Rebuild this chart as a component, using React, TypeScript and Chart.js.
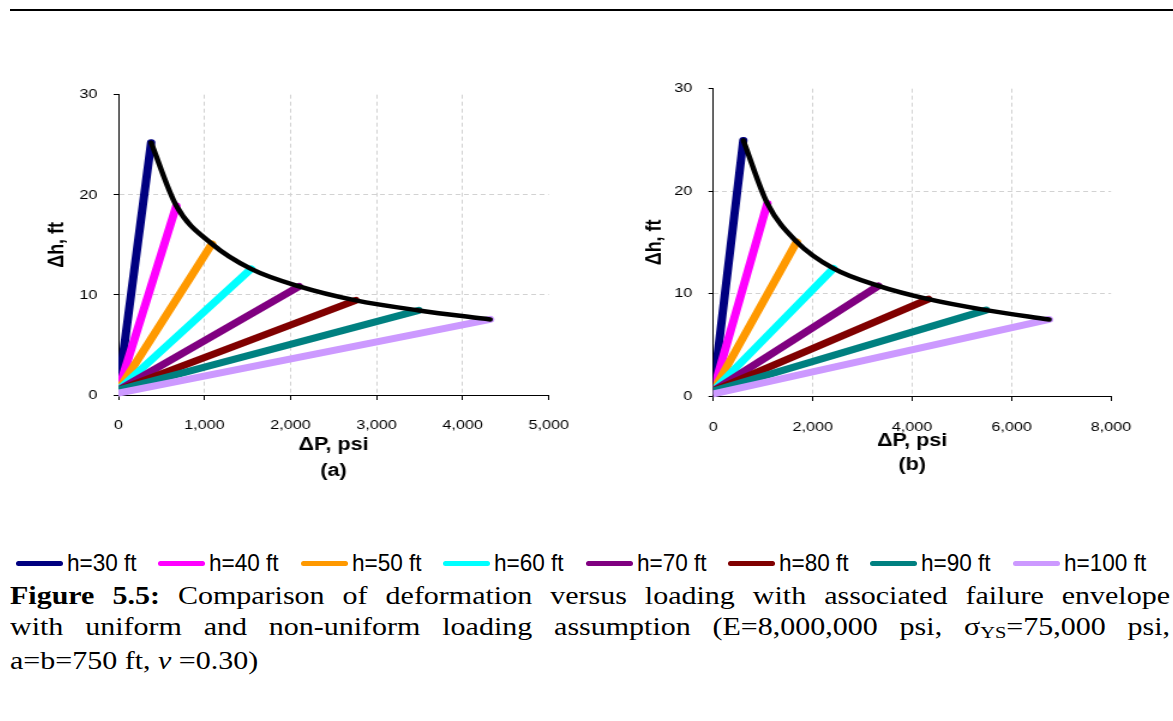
import React, { useEffect, useRef } from 'react';
import { Chart, registerables } from 'chart.js';

Chart.register(...registerables);

// ---------- data ----------
const SERIES_LABELS = ['h=30 ft', 'h=40 ft', 'h=50 ft', 'h=60 ft', 'h=70 ft', 'h=80 ft', 'h=90 ft', 'h=100 ft'];
const SERIES_COLORS = ['#000080', '#FF00FF', '#FF9900', '#00FFFF', '#800080', '#800000', '#008080', '#CC99FF'];
const START_DP = [0, 0, 0, 0, 0, 0, 0, 0];
const START_DH = [0.5, 0.5, 0.5, 0.5, 0.5, 0.5, 0.5, 0.2];
// panel (a): uniform loading
const A_END_DP = [380, 673, 1086, 1541, 2100, 2757, 3490, 4319];
const A_END_DH = [25.2, 18.9, 15.1, 12.6, 10.85, 9.45, 8.45, 7.55];
// panel (b): non-uniform loading
const B_END_DP = [604, 1087, 1678, 2415, 3320, 4326, 5487, 6754];
const B_END_DH = [24.95, 18.8, 15.05, 12.45, 10.75, 9.45, 8.38, 7.47];
const A_X_TICKS = [0, 1000, 2000, 3000, 4000, 5000];
const B_X_TICKS = [0, 2000, 4000, 6000, 8000];
const Y_TICKS = [0, 10, 20, 30];
const X_TITLE = '\u0394P, psi';
const Y_TITLE = '\u0394h, ft';

const FONT = '"Liberation Sans", Arial, sans-serif';
const SX = 1.2; // horizontal stretch of the pasted page

type Panel = {
  endX: number[];
  endY: number[];
  xTicks: number[];
  sub: string;
  left: number;
  top: number;
  cssW: number;
  h: number;
  yAxisW: number;
  padRight: number;
  xAxisH: number;
  xTickPad: number;
  xTitleLH: number;
  xTitlePadBottom: number;
  yTitlePad: number;
};

const PANEL_A: Panel = {
  endX: A_END_DP, endY: A_END_DH, xTicks: A_X_TICKS, sub: '(a)',
  left: 20, top: 73, cssW: 570, h: 417,
  yAxisW: 82, padRight: 33, xAxisH: 95,
  xTickPad: 17.5, xTitleLH: 26, xTitlePadBottom: 5.5, yTitlePad: 20,
};
const PANEL_B: Panel = {
  endX: B_END_DP, endY: B_END_DH, xTicks: B_X_TICKS, sub: '(b)',
  left: 620, top: 67, cssW: 540, h: 418,
  yAxisW: 77.75, padRight: 40.8, xAxisH: 89,
  xTickPad: 18, xTitleLH: 24, xTitlePadBottom: 8, yTitlePad: 18,
};

const fmt = (v: number) => Number(v).toLocaleString('en-US');

function PanelChart({ p }: { p: Panel }) {
  const ref = useRef<HTMLCanvasElement>(null);
  const dw = Math.round(p.cssW / SX);
  useEffect(() => {
    const canvas = ref.current!;
    const xMax = p.xTicks[p.xTicks.length - 1];
    const yMax = Y_TICKS[Y_TICKS.length - 1];
    const datasets: any[] = SERIES_LABELS.map((label, i) => ({
      type: 'line',
      label,
      data: [
        { x: START_DP[i], y: START_DH[i] },
        { x: p.endX[i], y: p.endY[i] },
      ],
      borderColor: SERIES_COLORS[i],
      backgroundColor: SERIES_COLORS[i],
      borderWidth: 7,
      borderCapStyle: 'round',
      pointRadius: 0,
      showLine: true,
      fill: false,
      order: SERIES_LABELS.length - i,
      clip: { left: 0, top: 10, right: 10, bottom: 4 },
    }));
    datasets.push({
      type: 'line',
      label: 'envelope',
      data: p.endX.map((x, i) => ({ x, y: p.endY[i] })),
      borderColor: '#000000',
      backgroundColor: '#000000',
      borderWidth: 4.5,
      borderCapStyle: 'round',
      borderJoinStyle: 'round',
      cubicInterpolationMode: 'monotone',
      pointRadius: 0,
      showLine: true,
      fill: false,
      order: 0,
      clip: false,
    });
    const gridColor = (max: number) => (ctx: any) =>
      ctx.tick && (ctx.tick.value === 0 || ctx.tick.value === max) ? 'rgba(0,0,0,0)' : '#d2d2d2';
    const chart = new Chart(canvas, {
      type: 'scatter',
      data: { datasets },
      options: {
        responsive: false,
        animation: false,
        devicePixelRatio: 1,
        events: [],
        layout: { padding: { left: 0, right: p.padRight, top: 0, bottom: 0 } },
        plugins: { legend: { display: false }, tooltip: { enabled: false }, title: { display: false } },
        scales: {
          x: {
            type: 'linear',
            min: 0,
            max: xMax,
            afterBuildTicks: (s: any) => { s.ticks = p.xTicks.map((v) => ({ value: v })); },
            afterFit: (s: any) => { s.height = p.xAxisH; },
            grid: {
              color: gridColor(xMax),
              lineWidth: 1,
              drawTicks: true,
              tickLength: 5,
              tickColor: '#000000',
              tickWidth: 1,
              tickBorderDash: [],
            },
            border: { display: true, color: '#000000', width: 1, dash: [4, 3] },
            ticks: {
              padding: p.xTickPad,
              color: '#000000',
              font: { family: FONT, size: 13.5 },
              maxRotation: 0,
              autoSkip: false,
              callback: (v: any) => fmt(v),
            },
            title: {
              display: true,
              text: [X_TITLE, p.sub],
              color: '#000000',
              font: { family: FONT, size: 18, weight: 'bold', lineHeight: p.xTitleLH / 18 },
              padding: { top: 0, bottom: p.xTitlePadBottom },
            },
          },
          y: {
            type: 'linear',
            min: 0,
            max: yMax,
            afterBuildTicks: (s: any) => { s.ticks = Y_TICKS.map((v) => ({ value: v })); },
            afterFit: (s: any) => { s.width = p.yAxisW; },
            grid: {
              color: gridColor(yMax),
              lineWidth: 1,
              drawTicks: true,
              tickLength: 4,
              tickColor: '#000000',
              tickWidth: 1,
              tickBorderDash: [],
            },
            border: { display: true, color: '#000000', width: 1, dash: [4, 3] },
            ticks: {
              padding: 13.6,
              color: '#000000',
              font: { family: FONT, size: 13.5 },
              autoSkip: false,
              callback: (v: any) => fmt(v),
            },
            title: {
              display: true,
              text: Y_TITLE,
              color: '#000000',
              font: { family: FONT, size: 18, weight: 'bold' },
              padding: { top: p.yTitlePad, bottom: 0 },
            },
          },
        },
      } as any,
    });
    return () => chart.destroy();
  }, []);
  return (
    <canvas
      ref={ref}
      width={dw}
      height={p.h}
      style={{ position: 'absolute', left: p.left, top: p.top, width: p.cssW + 'px', height: p.h + 'px' }}
    />
  );
}

function Legend() {
  return (
    <div style={{ position: 'absolute', left: 0, top: 548, width: 1173, height: 30 }}>
      {SERIES_LABELS.map((label, i) => (
        <div
          key={label}
          style={{
            position: 'absolute',
            left: 16 + i * 142.4,
            top: 0,
            height: 30,
            display: 'flex',
            alignItems: 'center',
            whiteSpace: 'nowrap',
          }}
        >
          <span
            style={{
              display: 'inline-block',
              width: 47,
              height: 5,
              borderRadius: 3,
              background: SERIES_COLORS[i],
              marginRight: 4,
            }}
          />
          <span
            style={{
              display: 'inline-block',
              fontFamily: FONT,
              fontSize: 24,
              color: '#000',
              lineHeight: '30px',
              transform: 'scaleX(0.94)',
              transformOrigin: 'left center',
            }}
          >
            {label}
          </span>
        </div>
      ))}
    </div>
  );
}

function Caption() {
  const line: React.CSSProperties = { textAlign: 'justify', textAlignLast: 'justify' as any, whiteSpace: 'normal' };
  return (
    <div
      style={{
        position: 'absolute',
        left: 10,
        top: 580,
        width: 1160 / SX,
        transform: `scaleX(${SX})`,
        transformOrigin: 'left top',
        fontFamily: '"Liberation Serif", "Times New Roman", serif',
        fontSize: 25,
        lineHeight: '31px',
        color: '#000',
      }}
    >
      <div style={line}>
        <b>Figure 5.5:</b> Comparison of deformation versus loading with associated failure envelope
      </div>
      <div style={line}>
        with uniform and non-uniform loading assumption (E=8,000,000 psi, {'\u03C3'}
        <span style={{ fontSize: '0.68em', position: 'relative', top: '0.18em' }}>YS</span>=75,000 psi,
      </div>
      <div>
        a=b=750 ft, <i>{'\u03BD'}</i> =0.30)
      </div>
    </div>
  );
}

export default function App() {
  return (
    <div
      style={{
        position: 'absolute',
        left: 0,
        top: 0,
        width: 1173,
        height: 721,
        overflow: 'hidden',
        background: '#ffffff',
      }}
    >
      <div style={{ position: 'absolute', left: 10, top: 9, width: 1163, height: 2, background: '#000' }} />
      <PanelChart p={PANEL_A} />
      <PanelChart p={PANEL_B} />
      <Legend />
      <Caption />
    </div>
  );
}
